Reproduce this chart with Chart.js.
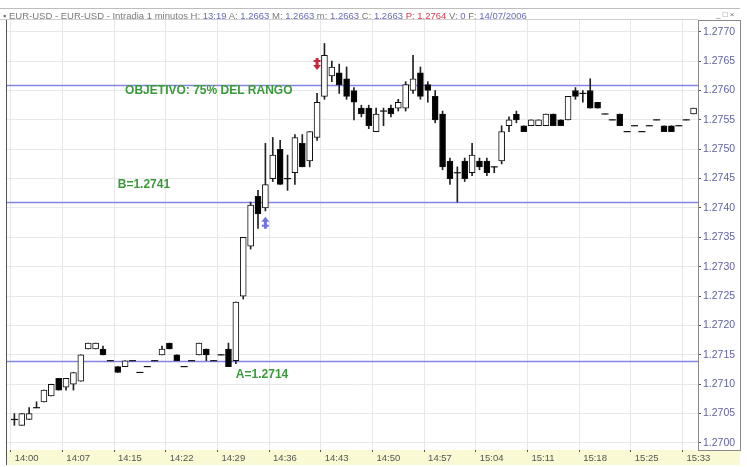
<!DOCTYPE html>
<html><head><meta charset="utf-8">
<script src="https://cdn.jsdelivr.net/npm/chart.js@4.4.1/dist/chart.umd.min.js"></script>
<style>
html,body{margin:0;padding:0;background:#fff;}
#wrap{position:relative;width:747px;height:467px;overflow:hidden;background:#fff;}
#hdr{position:absolute;left:3px;top:10px;width:690px;height:11px;font-family:Arial,"Liberation Sans",sans-serif;font-size:9.5px;color:#7a7a7a;line-height:11px;white-space:nowrap;}
#hdr .v{color:#6a6ab8;}
#hdr .r{color:#d04050;}
#btns{position:absolute;left:716px;top:10px;font-family:Arial,"Liberation Sans",sans-serif;font-size:8px;color:#777;line-height:10px;}
canvas{position:absolute;left:0;top:0;}
</style></head>
<body>
<div id="wrap">
<canvas id="c" width="747" height="467"></canvas>
<div id="hdr">&#9642; EUR-USD - EUR-USD - Intradia 1 minutos H: <span class="v">13:19</span> A: <span class="v">1.2663</span> M: <span class="v">1.2663</span> m: <span class="v">1.2663</span> C: <span class="v">1.2663</span> <span class="r">P: 1.2764</span> V: <span class="v">0</span> F: <span class="v">14/07/2006</span></div>
<div id="btns">_ &#9633; &#215;</div>
</div>
<script>
// ---- data (EUR-USD, 1-minute bars, 14/07/2006) ----
const tickLabels = ['14:00','14:07','14:15','14:22','14:29','14:36','14:43','14:50','14:57','15:04','15:11','15:18','15:25','15:33'];
const barsPerTick = 7;
const yTicks = [1.2700,1.2705,1.2710,1.2715,1.2720,1.2725,1.2730,1.2735,1.2740,1.2745,1.2750,1.2755,1.2760,1.2765,1.2770];
const yMin = 1.26988, yMax = 1.27720;

const openP = [1.2704,1.2703,1.2704,1.2706,1.2707,1.2708,1.2711,1.27095,1.2710,1.27105,
  1.2716,1.2716,1.2716,1.2714,1.2713,1.2713,1.2714,1.2712,1.2713,1.2714,
  1.2715,1.2717,1.2715,1.2713,1.2714,1.2715,1.2716,1.2714,1.2715,1.2716,
  1.2714,1.2725,1.27335,1.2742,1.2740,1.2745,1.2750,1.2745,1.2746,1.2751,
  1.2748,1.2752,1.2759,1.27625,1.2763,1.2762,1.2760,1.2757,1.2757,1.2753,
  1.27565,1.2757,1.2757,1.2757,1.2760,1.2763,1.2761,1.2759,1.2756,1.2748,
  1.2746,1.2748,1.2746,1.2748,1.2748,1.2747,1.2748,1.2754,1.2756,1.2754,
  1.2754,1.2754,1.2754,1.2756,1.2755,1.2755,1.2760,1.27595,1.2760,1.2758,
  1.2756,1.2755,1.2756,1.2753,1.2754,1.2753,1.2754,1.2755,1.2754,1.2754,
  1.2754,1.2755,1.2756];
const highP = [1.2705,1.2705,1.2706,1.2707,1.2709,1.2710,1.2711,1.2711,1.2712,1.2715,
  1.2717,1.2717,1.27165,1.2714,1.2713,1.2714,1.2714,1.2712,1.2713,1.2714,
  1.27165,1.2717,1.2715,1.2713,1.2714,1.2717,1.2716,1.2714,1.2715,1.2717,
  1.2724,1.2735,1.2741,1.2743,1.2751,1.2752,1.27515,1.2749,1.27525,1.27525,
  1.2753,1.27595,1.2768,1.2765,1.27645,1.2764,1.27605,1.27575,1.27575,1.2757,
  1.2757,1.27575,1.27585,1.27615,1.2766,1.2764,1.27615,1.2760,1.27565,1.27485,
  1.2747,1.27485,1.2751,1.27485,1.27485,1.2747,1.2754,1.27555,1.27565,1.2754,
  1.2755,1.2755,1.2756,1.2756,1.2755,1.2759,1.27605,1.2760,1.2762,1.2758,
  1.2756,1.2755,1.2756,1.2753,1.2754,1.2753,1.2754,1.2755,1.2754,1.2754,
  1.2754,1.2755,1.2757];
const lowP = [1.2703,1.2703,1.2704,1.2706,1.2707,1.2708,1.2709,1.2709,1.2709,1.27105,
  1.2716,1.2716,1.2715,1.2714,1.2712,1.2713,1.2714,1.2712,1.2713,1.2714,
  1.2715,1.2716,1.2714,1.2713,1.2714,1.2715,1.2714,1.2714,1.2715,1.2713,
  1.27135,1.27245,1.2733,1.27365,1.27395,1.27445,1.2744,1.2743,1.2744,1.2747,
  1.2747,1.27515,1.27585,1.27615,1.27595,1.27585,1.2755,1.27555,1.27535,1.2753,
  1.2754,1.27555,1.27565,1.27565,1.27595,1.27585,1.2758,1.27545,1.27465,1.2744,
  1.2741,1.27445,1.27455,1.27465,1.27455,1.2746,1.27475,1.2753,1.27545,1.2753,
  1.2754,1.2754,1.2754,1.2754,1.2754,1.2755,1.27585,1.2758,1.2757,1.2757,
  1.2756,1.2755,1.2754,1.2753,1.2754,1.2753,1.2754,1.2755,1.2753,1.2753,
  1.2754,1.2755,1.2756];
const closeP = [1.2704,1.2705,1.2705,1.2706,1.2709,1.2710,1.2709,1.2711,1.2712,1.2715,
  1.2717,1.2717,1.2715,1.2714,1.2712,1.2714,1.2714,1.2712,1.2713,1.2714,
  1.2716,1.2716,1.2714,1.2713,1.2714,1.2717,1.2715,1.2714,1.2715,1.2713,
  1.2724,1.2735,1.27405,1.2739,1.2744,1.2749,1.2744,1.2745,1.2752,1.2747,
  1.2753,1.2758,1.2766,1.2764,1.2761,1.2759,1.2758,1.2756,1.2754,1.2756,
  1.27565,1.2756,1.2758,1.2761,1.2762,1.2759,1.2760,1.2755,1.2747,1.2745,
  1.2746,1.2745,1.2749,1.2747,1.2746,1.2747,1.2753,1.2755,1.2755,1.2753,
  1.2755,1.2755,1.2756,1.2754,1.2754,1.2759,1.2759,1.27595,1.2757,1.2757,
  1.2756,1.2755,1.2754,1.2753,1.2754,1.2753,1.2754,1.2755,1.2753,1.2753,
  1.2754,1.2755,1.2757];

const levels = [1.2761, 1.2741, 1.2714];
const levelTexts = ['OBJETIVO: 75% DEL RANGO', 'B=1.2741', 'A=1.2714'];
const sellSignal = {bar: 41, price: 1.2764};
const buySignal = {bar: 34, price: 1.2738};

// ---- build datasets ----
const idx = openP.map((_, i) => i);
const wickData = idx.map(i => ({x: i + 0.5, y: [lowP[i], highP[i]]}));
const bodyData = idx.map(i => ({x: i + 0.5, y: openP[i] === closeP[i] ? null : [Math.min(openP[i], closeP[i]), Math.max(openP[i], closeP[i])]}));
const dojiData = idx.filter(i => openP[i] === closeP[i]).map(i => ({x: i + 0.5, y: closeP[i]}));

const decor = {
  id: 'decor',
  beforeDraw(chart) {
    const {ctx, chartArea: a} = chart;
    ctx.save();
    ctx.fillStyle = '#f9f9d4';
    ctx.fillRect(a.left - 1, a.bottom, a.right + 42 - a.left + 1, 15);
    ctx.strokeStyle = '#bdbdbd';
    ctx.lineWidth = 1;
    ctx.beginPath(); ctx.moveTo(0, 8.5); ctx.lineTo(a.right + 42, 8.5); ctx.stroke();
    ctx.restore();
  },
  beforeDatasetsDraw(chart) {
    const {ctx, chartArea: a, scales: {y}} = chart;
    ctx.save();
    ctx.strokeStyle = '#8484e4';
    ctx.lineWidth = 1.5;
    levels.forEach(l => {
      const py = Math.round(y.getPixelForValue(l)) + 0.5;
      ctx.beginPath(); ctx.moveTo(a.left, py); ctx.lineTo(a.right, py); ctx.stroke();
    });
    ctx.restore();
  },
  afterDatasetsDraw(chart) {
    const {ctx, scales: {x, y}} = chart;
    ctx.save();
    ctx.fillStyle = '#3a9a3a';
    ctx.font = 'bold 12px Arial, "Liberation Sans", sans-serif';
    ctx.textBaseline = 'middle';
    const place = [[15.5, 6], [14.5, -17], [30.5, 14]];
    levels.forEach((l, k) => {
      ctx.fillText(levelTexts[k], x.getPixelForValue(place[k][0]), y.getPixelForValue(l) + place[k][1]);
    });
    // signal arrows
    const arrow = (px, py, dir, col) => {
      ctx.fillStyle = col;
      ctx.fillRect(px - 1.5, Math.min(py, py - 8 * dir), 3, 8);
      ctx.beginPath();
      ctx.moveTo(px - 4, py - dir); ctx.lineTo(px + 4, py - dir); ctx.lineTo(px, py + 4 * dir); ctx.closePath();
      ctx.fill();
      ctx.fillRect(px - 3.5, py - 5 * dir - 1, 7, 2);
    };
    arrow(x.getPixelForValue(sellSignal.bar + 0.5), y.getPixelForValue(sellSignal.price) - 1, 1, '#c8283c');
    arrow(x.getPixelForValue(buySignal.bar + 0.5), y.getPixelForValue(buySignal.price) + 1, -1, '#7272e0');
    ctx.restore();
  },
  afterDraw(chart) {
    const {ctx, chartArea: a} = chart;
    ctx.save();
    ctx.strokeStyle = '#555';
    ctx.lineWidth = 1;
    ctx.beginPath(); ctx.moveTo(a.left - 0.5, a.top); ctx.lineTo(a.left - 0.5, a.bottom + 15); ctx.stroke();
    ctx.strokeStyle = '#8a8a8a';
    ctx.strokeRect(a.right + 0.5, a.top + 0.5, 42, a.bottom - a.top);
    ctx.strokeStyle = '#d0d0d0';
    ctx.beginPath(); ctx.moveTo(0, a.top - 0.5); ctx.lineTo(a.right, a.top - 0.5); ctx.stroke();
    ctx.restore();
  }
};

new Chart(document.getElementById('c'), {
  type: 'bar',
  data: {
    datasets: [
      {type: 'line', data: dojiData, showLine: false, pointStyle: 'line', pointRadius: 3.5,
       pointBorderWidth: 1.2, pointBorderColor: '#111', borderColor: '#111', order: 0},
      {data: bodyData, grouped: false, barThickness: 6, borderWidth: 1, borderSkipped: false,
       borderColor: '#111',
       backgroundColor: c => (openP[c.dataIndex] < closeP[c.dataIndex] ? '#ffffff' : '#000000'), order: 1},
      {data: wickData, grouped: false, barThickness: 1, backgroundColor: '#222', borderWidth: 0, order: 2}
    ]
  },
  options: {
    responsive: false, animation: false, devicePixelRatio: 1,
    layout: {padding: {left: 7, top: 20, right: 7, bottom: 0}},
    plugins: {legend: {display: false}, tooltip: {enabled: false}},
    scales: {
      x: {type: 'linear', min: -0.5, max: 93.1, offset: false,
        grid: {color: '#e8e8e8', drawTicks: true, tickLength: 2, tickColor: '#555', offset: false},
        border: {display: false},
        afterBuildTicks: s => { s.ticks = tickLabels.map((t, k) => ({value: k * barsPerTick})); },
        ticks: {autoSkip: false, maxRotation: 0, minRotation: 0, align: 'start', labelOffset: 4, padding: 1,
          color: '#555', font: {size: 9.5, family: 'Arial, "Liberation Sans", sans-serif'},
          callback: v => tickLabels[Math.round(v / barsPerTick)]},
        afterFit: s => { s.height = 17; }
      },
      y: {type: 'linear', position: 'right', min: yMin, max: yMax,
        grid: {color: '#e8e8e8', tickLength: 3, tickColor: '#555'},
        border: {display: false},
        afterBuildTicks: s => { s.ticks = yTicks.map(v => ({value: v})); },
        ticks: {color: '#6262a4', padding: 2, font: {size: 10.5, family: 'Arial, "Liberation Sans", sans-serif'},
          callback: v => v.toFixed(4)},
        afterFit: s => { s.width = 42; }
      }
    }
  },
  plugins: [decor]
});
</script>
</body></html>
